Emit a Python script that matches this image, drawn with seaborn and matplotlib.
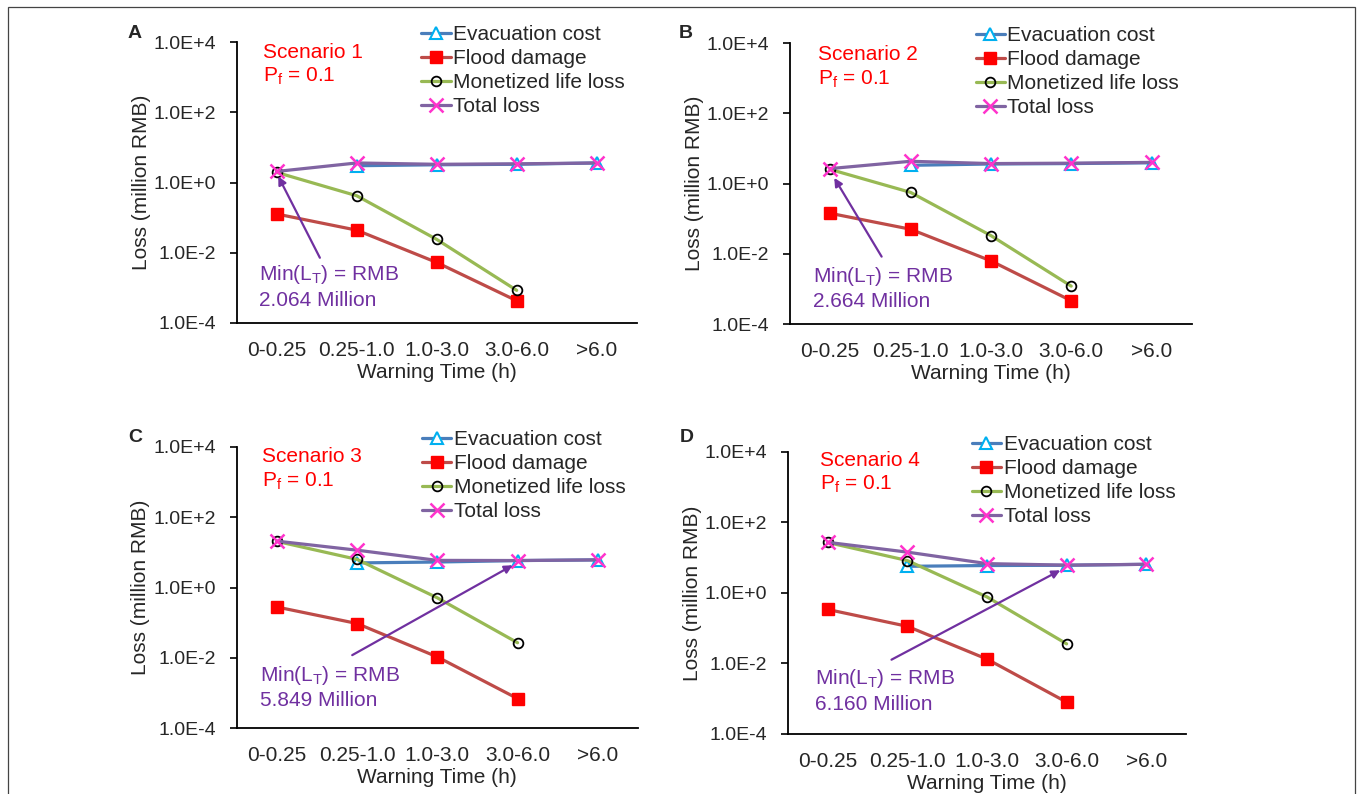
import numpy as np
import pandas as pd
import matplotlib
matplotlib.use("Agg")
import matplotlib.pyplot as plt
from matplotlib.patches import Rectangle
import seaborn as sns

# warning time categories
categories = ["0-0.25", "0.25-1.0", "1.0-3.0", "3.0-6.0", ">6.0"]
ytick_values = [1e-4, 1e-2, 1e0, 1e2, 1e4]
ytick_labels = ["1.0E-4", "1.0E-2", "1.0E+0", "1.0E+2", "1.0E+4"]

series_names = ["Evacuation cost", "Flood damage", "Monetized life loss", "Total loss"]

# scenario 1 (million RMB), nan = not plotted
evac_1 = [np.nan, 3.0, 3.2, 3.3, 3.6]
flood_1 = [0.127, 0.044, 0.0053, 0.00043, np.nan]
life_1 = [1.94, 0.42, 0.024, 0.00085, np.nan]
total_1 = [2.064, 3.6, 3.3, 3.4, 3.6]

# scenario 2
evac_2 = [np.nan, 3.3, 3.6, 3.7, 3.9]
flood_2 = [0.142, 0.050, 0.0063, 0.00046, np.nan]
life_2 = [2.52, 0.56, 0.033, 0.0012, np.nan]
total_2 = [2.664, 4.3, 3.7, 3.8, 4.0]

# scenario 3
evac_3 = [np.nan, 5.0, 5.3, 5.82, 6.1]
flood_3 = [0.28, 0.095, 0.0107, 0.0007, np.nan]
life_3 = [20.5, 6.3, 0.51, 0.027, np.nan]
total_3 = [20.8, 11.5, 5.9, 5.849, 6.1]

# scenario 4
evac_4 = [np.nan, 5.7, 6.0, 6.1, 6.5]
flood_4 = [0.34, 0.113, 0.0133, 0.0008, np.nan]
life_4 = [27.0, 8.3, 0.77, 0.036, np.nan]
total_4 = [27.3, 14.4, 6.8, 6.160, 6.5]

scenarios = [
    ("A", "Scenario 1", [evac_1, flood_1, life_1, total_1], "2.064"),
    ("B", "Scenario 2", [evac_2, flood_2, life_2, total_2], "2.664"),
    ("C", "Scenario 3", [evac_3, flood_3, life_3, total_3], "5.849"),
    ("D", "Scenario 4", [evac_4, flood_4, life_4, total_4], "6.160"),
]

# arrow (tail -> head) for min total loss, in data coords
arrows = [
    ((0.54, 0.0072), (0.02, 1.5)),
    ((0.64, 0.0083), (0.05, 1.45)),
    ((0.94, 0.012), (2.94, 4.3)),
    ((0.80, 0.0128), (2.92, 4.4)),
]

styles = [
    dict(color="#4A7EBB", marker="^", markersize=8, markeredgecolor="#00B0F0",
         markerfacecolor="white", markeredgewidth=1.5),
    dict(color="#BE4B48", marker="s", markersize=8.5, markeredgecolor="#FF0000",
         markerfacecolor="#FF0000", markeredgewidth=1),
    dict(color="#98B954", marker="o", markersize=7, markeredgecolor="black",
         markerfacecolor="none", markeredgewidth=1.3),
    dict(color="#8064A2", marker="x", markersize=10, markeredgecolor="#FF33CC",
         markeredgewidth=1.8),
]

sns.set_style("white")
plt.rcParams["font.family"] = ["Liberation Sans", "DejaVu Sans"]
plt.rcParams["mathtext.fontset"] = "custom"
plt.rcParams["mathtext.rm"] = "Liberation Sans"
plt.rcParams["mathtext.it"] = "Liberation Sans:italic"

FS = 15
fig = plt.figure(figsize=(13.57, 7.94), dpi=100)

# axes boxes [left, bottom, width, height]
boxes = [
    [0.1744, 0.5932, 0.2948, 0.3539],
    [0.5822, 0.5919, 0.2960, 0.3539],
    [0.1744, 0.0827, 0.2957, 0.3547],
    [0.5807, 0.0756, 0.2933, 0.3552],
]
letter_pos = [(135, 33), (686, 33), (135, 438), (687, 437)]
scen_pos = [(0.066, 0.963, 0.877), (0.07, 0.958, 0.869),
            (0.063, 0.966, 0.877), (0.08, 0.969, 0.884)]
min_pos = [(0.0565, 0.171, 0.079), (0.057, 0.168, 0.079),
           (0.058, 0.189, 0.100), (0.068, 0.195, 0.103)]
x = np.arange(len(categories))

for i, (letter, scen, vals, minval) in enumerate(scenarios):
    ax = fig.add_axes(boxes[i])
    for name, v, st in zip(series_names, vals, styles):
        df = pd.DataFrame({"x": x, "y": v})
        sns.lineplot(data=df, x="x", y="y", ax=ax, linewidth=2.3, errorbar=None,
                     label=name, **st)
    ax.set_yscale("log")
    ax.set_ylim(1e-4, 1e4)
    ax.set_xlim(-0.5, 4.5)
    ax.set_yticks(ytick_values, ytick_labels)
    ax.yaxis.set_minor_locator(matplotlib.ticker.NullLocator())
    ax.set_xticks(x, categories)
    ax.set_xticks(np.arange(0.5, 5, 1.0), minor=True)
    ax.tick_params(axis="x", which="major", length=0, pad=13, labelsize=FS)
    ax.tick_params(axis="x", which="minor", direction="in", length=6, width=1.2, color="black")
    ax.tick_params(axis="y", which="major", direction="out", length=5, width=1.2,
                   pad=10, labelsize=14, color="black", left=True)
    for s in ["top", "right"]:
        ax.spines[s].set_visible(False)
    for s in ["left", "bottom"]:
        ax.spines[s].set_color("black")
        ax.spines[s].set_linewidth(1.3)
    ax.set_xlabel("Warning Time (h)", fontsize=FS)
    ax.set_ylabel("Loss (million RMB)", fontsize=FS)
    ax.xaxis.set_label_coords(0.5, -0.142)
    ax.yaxis.set_label_coords(-0.215, 0.5)

    ax.legend(loc="upper left", bbox_to_anchor=(0.462, 1.060), frameon=False,
              fontsize=FS, handlelength=1.4, handletextpad=0.12,
              labelspacing=0.24, borderpad=0, borderaxespad=0)

    sx, sy1, sy2 = scen_pos[i]
    ax.text(sx, sy1, scen, transform=ax.transAxes, color="#FF0000",
            fontsize=FS, va="center", ha="left")
    ax.text(sx, sy2, "P$_\\mathrm{f}$ = 0.1", transform=ax.transAxes,
            color="#FF0000", fontsize=FS, va="center", ha="left")

    (tx, ty), (hx, hy) = arrows[i]
    ax.annotate("", xy=(hx, hy), xytext=(tx, ty),
                arrowprops=dict(arrowstyle="-|>", color="#7030A0", lw=1.6,
                                mutation_scale=12, shrinkA=0, shrinkB=0))
    mx, my1, my2 = min_pos[i]
    ax.text(mx, my1, "Min(L$_\\mathrm{T}$) = RMB", transform=ax.transAxes,
            color="#7030A0", fontsize=FS, va="center", ha="left")
    ax.text(mx, my2, minval + " Million", transform=ax.transAxes,
            color="#7030A0", fontsize=FS, va="center", ha="left")

    lx, ly = letter_pos[i]
    fig.text(lx / 1357, 1 - ly / 794, letter, fontsize=14, fontweight="bold",
             ha="center", va="center")

fig.patches.append(Rectangle((8 / 1357, -0.02), 1347 / 1357, 1.02 - 7 / 794,
                             transform=fig.transFigure, fill=False,
                             edgecolor="#444444", linewidth=0.9))

fig.savefig("out.png", dpi=100)
